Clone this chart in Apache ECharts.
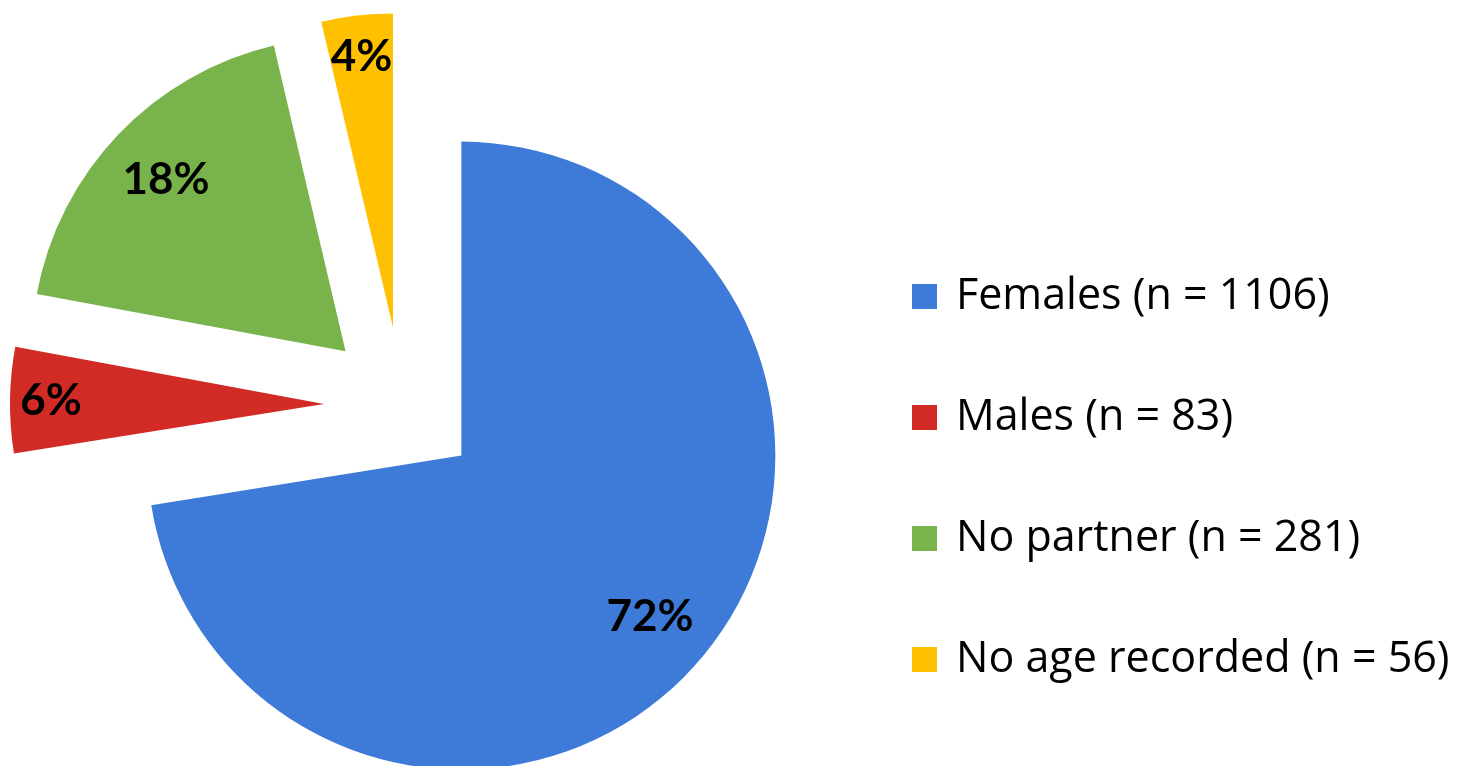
<!DOCTYPE html>
<html>
<head>
<meta charset="utf-8">
<title>Pie</title>
<script src="https://cdn.jsdelivr.net/npm/echarts@6/dist/echarts.min.js"></script>
<style>
  html, body { margin: 0; padding: 0; background: #fff; }
  #chart { width: 1476px; height: 766px; }
</style>
</head>
<body>
<div id="chart"></div>
<script>
const categories = ['Females', 'Males', 'No partner', 'No age recorded']
const counts = [1106, 83, 281, 56]
// percentages as printed on the slices
const pctLabels = [72, 6, 18, 4]
const colors = ['#3e7ad7', '#d22a25', '#79b34c', '#ffc000']

const center = [402, 405]
const radius = 314
const explode = 78
const total = counts.reduce((a, b) => a + b, 0)

const legendName = (i) => categories[i] + ' (n = ' + counts[i] + ')'

// main slices
const mainData = categories.map((c, i) => ({
  name: legendName(i),
  value: counts[i],
  selected: true,
  itemStyle: { color: colors[i] }
}))

// invisible rings only used to place the percentage labels further out
function labelRing(inner, wide) {
  return {
    type: 'pie',
    center: center,
    radius: [inner, radius],
    startAngle: 90,
    clockwise: true,
    selectedMode: 'multiple',
    selectedOffset: explode,
    silent: true,
    legendHoverLink: false,
    avoidLabelOverlap: false,
    emphasis: { disabled: true },
    itemStyle: { color: 'transparent', borderWidth: 0 },
    labelLine: { show: false },
    label: {
      position: 'inside',
      color: '#000',
      fontFamily: 'Lato',
      fontWeight: 'bold',
      fontSize: 44,
      formatter: (p) => pctLabels[p.dataIndex] + '%'
    },
    data: categories.map((c, i) => ({
      name: legendName(i),
      value: counts[i],
      selected: true,
      label: { show: (counts[i] / total > 0.1) === wide }
    }))
  }
}

const chart = echarts.init(document.getElementById('chart'))
chart.setOption({
  animation: false,
  legend: {
    orient: 'vertical',
    left: 907,
    top: 270,
    icon: 'rect',
    itemWidth: 25,
    itemHeight: 25,
    itemGap: 78,
    data: categories.map((c, i) => legendName(i)),
    textStyle: {
      fontFamily: 'Open Sans',
      fontSize: 43,
      lineHeight: 40,
      color: '#000',
      padding: [0, 0, 0, 14]
    }
  },
  series: [{
    type: 'pie',
    center: center,
    radius: radius,
    startAngle: 90,
    clockwise: true,
    selectedMode: 'multiple',
    selectedOffset: explode,
    emphasis: { disabled: true },
    itemStyle: { borderWidth: 0 },
    label: { show: false },
    labelLine: { show: false },
    data: mainData
  },
  labelRing(176, true),
  labelRing(226, false)
  ]
})
</script>
</body>
</html>
